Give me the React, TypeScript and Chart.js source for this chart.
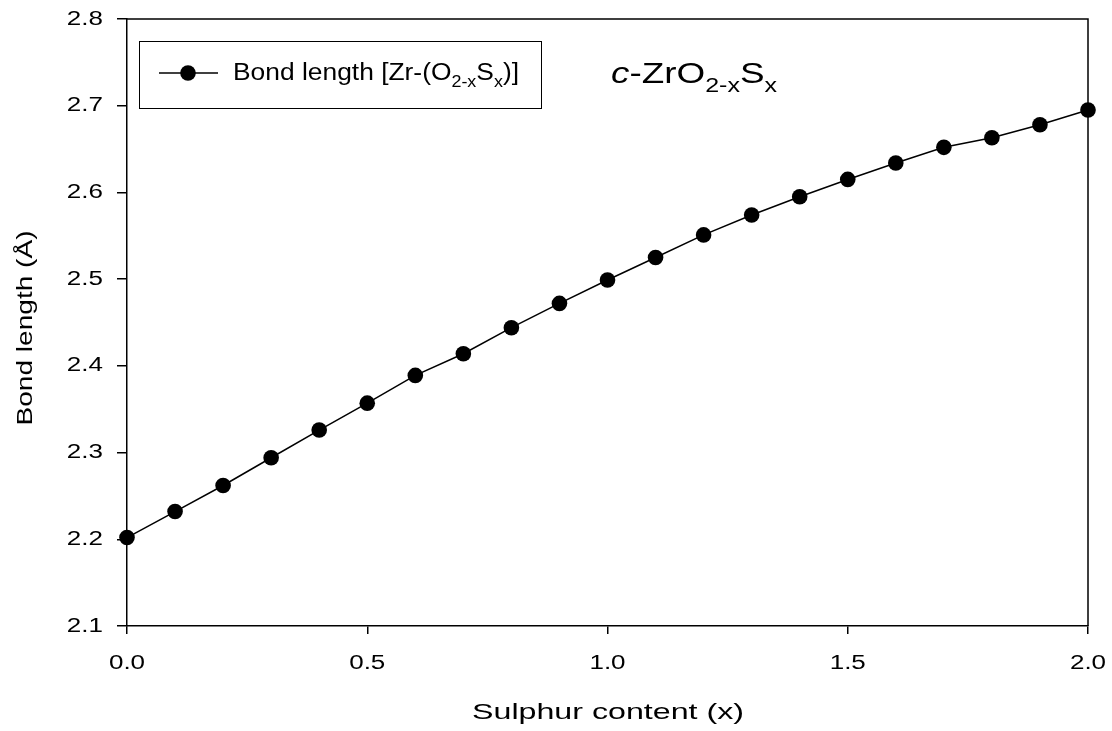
import React, { useEffect, useRef } from "react";
import { Chart, registerables } from "chart.js";

Chart.register(...registerables);

// Sulphur content x in c-ZrO2-xSx
const sulphurContent = [0.0, 0.1, 0.2, 0.3, 0.4, 0.5, 0.6, 0.7, 0.8, 0.9, 1.0, 1.1, 1.2, 1.3, 1.4, 1.5, 1.6, 1.7, 1.8, 1.9, 2.0];
// Zr-(O/S) bond length in Å
const bondLength = [2.202, 2.232, 2.262, 2.294, 2.326, 2.357, 2.389, 2.414, 2.444, 2.472, 2.499, 2.525, 2.551, 2.574, 2.595, 2.615, 2.634, 2.652, 2.663, 2.678, 2.695];
const xTicks = [0.0, 0.5, 1.0, 1.5, 2.0];
const yTicks = [2.1, 2.2, 2.3, 2.4, 2.5, 2.6, 2.7, 2.8];
const xTitle = "Sulphur content (x)";
const yTitle = "Bond length (Å)";

const FONT = "'Liberation Sans', Arial, sans-serif";

type Seg = { t: string; sub?: boolean; italic?: boolean };

function segFont(s: Seg, size: number) {
  const fs = s.sub ? size * 0.68 : size;
  return `${s.italic ? "italic " : ""}${fs}px ${FONT}`;
}

function richWidth(ctx: CanvasRenderingContext2D, segs: Seg[], size: number) {
  let w = 0;
  for (const s of segs) {
    ctx.font = segFont(s, size);
    w += ctx.measureText(s.t).width;
  }
  return w;
}

// Draws mixed normal/subscript text, widened horizontally by sx.
function drawRich(ctx: CanvasRenderingContext2D, segs: Seg[], x: number, y: number, size: number, sx: number) {
  ctx.save();
  ctx.translate(x, y);
  ctx.scale(sx, 1);
  let cx = 0;
  for (const s of segs) {
    ctx.font = segFont(s, size);
    ctx.fillText(s.t, cx, s.sub ? size * 0.3 : 0);
    cx += ctx.measureText(s.t).width;
  }
  ctx.restore();
}

function drawWide(
  ctx: CanvasRenderingContext2D,
  text: string,
  x: number,
  y: number,
  size: number,
  sx: number,
  align: CanvasTextAlign,
  baseline: CanvasTextBaseline,
  rotate = 0
) {
  ctx.save();
  ctx.translate(x, y);
  if (rotate) ctx.rotate(rotate);
  ctx.scale(sx, 1);
  ctx.font = `${size}px ${FONT}`;
  ctx.textAlign = align;
  ctx.textBaseline = baseline;
  ctx.fillText(text, 0, 0);
  ctx.restore();
}

const decorPlugin = {
  id: "decor",
  afterDraw(chart: any) {
    const { ctx, chartArea, scales } = chart;
    const { left, right, top, bottom } = chartArea;
    ctx.save();
    ctx.strokeStyle = "#000";
    ctx.fillStyle = "#000";
    ctx.lineWidth = 1.5;
    // frame top and right edges
    ctx.beginPath();
    ctx.moveTo(left, top);
    ctx.lineTo(right, top);
    ctx.lineTo(right, bottom);
    ctx.stroke();

    // tick labels
    for (const v of yTicks) {
      const py = scales.y.getPixelForValue(v);
      drawWide(ctx, v.toFixed(1), 103, py, 20, 1.3, "right", "middle");
    }
    for (const v of xTicks) {
      const px = scales.x.getPixelForValue(v);
      drawWide(ctx, v.toFixed(1), px, bottom + 43, 20, 1.3, "center", "alphabetic");
    }

    // axis titles
    ctx.font = `22px ${FONT}`;
    const xw = ctx.measureText(xTitle).width;
    drawWide(ctx, xTitle, (left + right) / 2 + 0.5, 719, 22, 272 / xw, "center", "alphabetic");
    const yw = ctx.measureText(yTitle).width;
    drawWide(ctx, yTitle, 32, 328, 22, 195 / yw, "center", "alphabetic", -Math.PI / 2);

    // legend box
    ctx.lineWidth = 1;
    ctx.strokeRect(139.5, 41.5, 402, 67);
    ctx.lineWidth = 1.5;
    ctx.beginPath();
    ctx.moveTo(159, 73);
    ctx.lineTo(218, 73);
    ctx.stroke();
    ctx.beginPath();
    ctx.arc(188, 73, 7.8, 0, Math.PI * 2);
    ctx.fill();

    ctx.textBaseline = "alphabetic";
    ctx.textAlign = "left";
    const legendSegs: Seg[] = [
      { t: "Bond length [Zr-(O" },
      { t: "2-x", sub: true },
      { t: "S" },
      { t: "x", sub: true },
      { t: ")]" },
    ];
    drawRich(ctx, legendSegs, 233, 80, 23, 286 / richWidth(ctx, legendSegs, 23));

    const titleSegs: Seg[] = [
      { t: "c", italic: true },
      { t: "-ZrO" },
      { t: "2-x", sub: true },
      { t: "S" },
      { t: "x", sub: true },
    ];
    drawRich(ctx, titleSegs, 611, 83, 29, 166 / richWidth(ctx, titleSegs, 29));
    ctx.restore();
  },
};

export default function App() {
  const canvasRef = useRef<HTMLCanvasElement | null>(null);

  useEffect(() => {
    const canvas = canvasRef.current;
    if (!canvas) return;
    const chart = new Chart(canvas, {
      type: "line",
      data: {
        datasets: [
          {
            label: "Bond length",
            data: sulphurContent.map((x, i) => ({ x, y: bondLength[i] })),
            borderColor: "#000",
            backgroundColor: "#000",
            borderWidth: 1.5,
            pointRadius: 7.8,
            pointBackgroundColor: "#000",
            pointBorderWidth: 0,
            tension: 0,
            clip: false,
          },
        ],
      },
      options: {
        responsive: false,
        animation: false,
        events: [],
        layout: { padding: { left: 0, right: 24, top: 19, bottom: 0 } },
        plugins: {
          legend: { display: false },
          tooltip: { enabled: false },
        },
        scales: {
          x: {
            type: "linear",
            min: 0,
            max: 2,
            afterBuildTicks: (scale: any) => {
              scale.ticks = xTicks.map((v) => ({ value: v }));
            },
            afterFit: (scale: any) => {
              scale.height = 105;
            },
            ticks: { display: false },
            grid: {
              drawOnChartArea: false,
              color: "#000",
              lineWidth: 1.5,
              tickLength: 8,
            },
            border: { color: "#000", width: 1.5 },
          },
          y: {
            type: "linear",
            min: 2.1,
            max: 2.8,
            afterBuildTicks: (scale: any) => {
              scale.ticks = yTicks.map((v) => ({ value: v }));
            },
            afterFit: (scale: any) => {
              scale.width = 127;
            },
            ticks: { display: false },
            grid: {
              drawOnChartArea: false,
              color: "#000",
              lineWidth: 1.5,
              tickLength: 10,
            },
            border: { color: "#000", width: 1.5 },
          },
        },
      },
      plugins: [decorPlugin],
    });
    return () => chart.destroy();
  }, []);

  return (
    <div style={{ position: "absolute", left: 0, top: 0, width: 1112, height: 731, background: "#fff" }}>
      <canvas ref={canvasRef} width={1112} height={731} style={{ display: "block" }} />
    </div>
  );
}
